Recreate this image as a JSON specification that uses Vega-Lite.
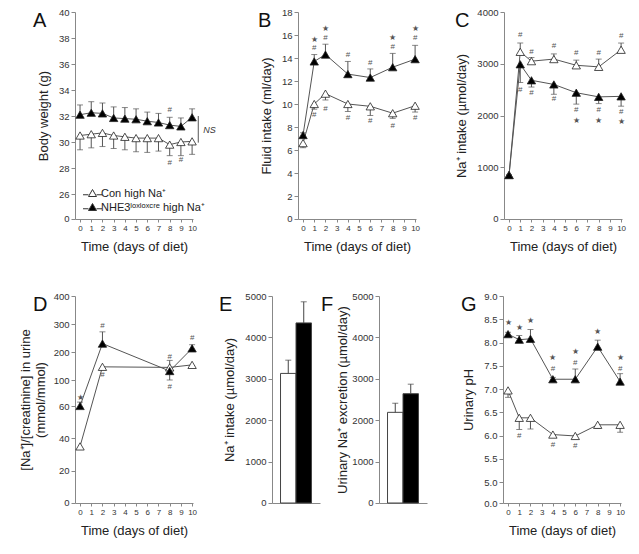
{
"$schema": "https://vega.github.io/schema/vega-lite/v6.json",
"padding": {"left": 19, "top": 7, "right": 5, "bottom": 5},
"config": {
  "font": "Liberation Sans",
  "view": {"stroke": null},
  "axis": {"grid": false, "domainColor": "#888", "tickColor": "#888", "labelColor": "#333", "labelFontSize": 9.5, "titleFontSize": 13, "titleFontWeight": "normal", "titleColor": "#222", "tickSize": 4, "labelPadding": 2, "titlePadding": 8, "labelOverlap": false, "labelFlush": false, "labelBound": false},
  "axisX": {"labelFontSize": 8, "tickSize": 3, "labelAngle": 0},
  "title": {"fontSize": 20, "fontWeight": "normal", "anchor": "start", "frame": "group", "color": "#111"}
},
"datasets": {
  "A": [
    {"day":0,"group":"Con high Na⁺","v":30.5,"e":29.4},{"day":1,"group":"Con high Na⁺","v":30.6,"e":29.55},{"day":2,"group":"Con high Na⁺","v":30.7,"e":29.65},{"day":3,"group":"Con high Na⁺","v":30.5,"e":29.5},{"day":4,"group":"Con high Na⁺","v":30.4,"e":29.4},{"day":5,"group":"Con high Na⁺","v":30.3,"e":29.25},{"day":6,"group":"Con high Na⁺","v":30.3,"e":29.2},{"day":7,"group":"Con high Na⁺","v":30.3,"e":29.3},{"day":8,"group":"Con high Na⁺","v":29.8,"e":28.95},{"day":9,"group":"Con high Na⁺","v":30.0,"e":28.95},{"day":10,"group":"Con high Na⁺","v":30.05,"e":29.05},
    {"day":0,"group":"NHE3ˡᵒˣˡᵒˣᶜʳᵉ high Na⁺","v":32.1,"e":32.85},{"day":1,"group":"NHE3ˡᵒˣˡᵒˣᶜʳᵉ high Na⁺","v":32.25,"e":33.1},{"day":2,"group":"NHE3ˡᵒˣˡᵒˣᶜʳᵉ high Na⁺","v":32.2,"e":33.0},{"day":3,"group":"NHE3ˡᵒˣˡᵒˣᶜʳᵉ high Na⁺","v":31.85,"e":32.7},{"day":4,"group":"NHE3ˡᵒˣˡᵒˣᶜʳᵉ high Na⁺","v":31.8,"e":32.65},{"day":5,"group":"NHE3ˡᵒˣˡᵒˣᶜʳᵉ high Na⁺","v":31.75,"e":32.55},{"day":6,"group":"NHE3ˡᵒˣˡᵒˣᶜʳᵉ high Na⁺","v":31.6,"e":32.3},{"day":7,"group":"NHE3ˡᵒˣˡᵒˣᶜʳᵉ high Na⁺","v":31.5,"e":32.2},{"day":8,"group":"NHE3ˡᵒˣˡᵒˣᶜʳᵉ high Na⁺","v":31.3,"e":31.9},{"day":9,"group":"NHE3ˡᵒˣˡᵒˣᶜʳᵉ high Na⁺","v":31.2,"e":31.85},{"day":10,"group":"NHE3ˡᵒˣˡᵒˣᶜʳᵉ high Na⁺","v":31.9,"e":32.55}
  ],
  "Aann": [{"day":8,"v":32.45,"t":"#"},{"day":8,"v":28.4,"t":"#"},{"day":9,"v":28.65,"t":"#"}],
  "Ans": [{"day":10.55,"v":32.0,"e":29.95}],
  "Anst": [{"day":11.0,"v":30.95,"t":"NS"}],
  "B": [
    {"day":0,"group":"Con high Na⁺","v":6.6,"e":6.2},{"day":1,"group":"Con high Na⁺","v":10.0,"e":9.55},{"day":2,"group":"Con high Na⁺","v":10.9,"e":10.35},{"day":4,"group":"Con high Na⁺","v":10.0,"e":9.35},{"day":6,"group":"Con high Na⁺","v":9.8,"e":9.0},{"day":8,"group":"Con high Na⁺","v":9.2,"e":8.75},{"day":10,"group":"Con high Na⁺","v":9.85,"e":9.3},
    {"day":0,"group":"NHE3ˡᵒˣˡᵒˣᶜʳᵉ high Na⁺","v":7.3,"e":7.5},{"day":1,"group":"NHE3ˡᵒˣˡᵒˣᶜʳᵉ high Na⁺","v":13.7,"e":14.3},{"day":2,"group":"NHE3ˡᵒˣˡᵒˣᶜʳᵉ high Na⁺","v":14.3,"e":15.2},{"day":4,"group":"NHE3ˡᵒˣˡᵒˣᶜʳᵉ high Na⁺","v":12.6,"e":13.7},{"day":6,"group":"NHE3ˡᵒˣˡᵒˣᶜʳᵉ high Na⁺","v":12.3,"e":13.05},{"day":8,"group":"NHE3ˡᵒˣˡᵒˣᶜʳᵉ high Na⁺","v":13.2,"e":14.4},{"day":10,"group":"NHE3ˡᵒˣˡᵒˣᶜʳᵉ high Na⁺","v":13.9,"e":15.1}
  ],
  "Bann": [
    {"day":1,"v":14.85,"t":"#"},{"day":1,"v":15.6,"t":"★"},{"day":2,"v":15.75,"t":"#"},{"day":2,"v":16.5,"t":"★"},{"day":4,"v":14.3,"t":"#"},{"day":6,"v":13.6,"t":"#"},{"day":8,"v":15.0,"t":"#"},{"day":8,"v":15.75,"t":"★"},{"day":10,"v":15.75,"t":"#"},{"day":10,"v":16.5,"t":"★"},
    {"day":1,"v":9.05,"t":"#"},{"day":2,"v":9.6,"t":"#"},{"day":4,"v":8.75,"t":"#"},{"day":6,"v":8.5,"t":"#"},{"day":8,"v":8.05,"t":"#"},{"day":10,"v":8.75,"t":"#"}
  ],
  "C": [
    {"day":0,"group":"Con high Na⁺","v":850,"e":850},{"day":1,"group":"Con high Na⁺","v":3230,"e":3400},{"day":2,"group":"Con high Na⁺","v":3050,"e":3120},{"day":4,"group":"Con high Na⁺","v":3090,"e":3190},{"day":6,"group":"Con high Na⁺","v":2970,"e":3070},{"day":8,"group":"Con high Na⁺","v":2940,"e":3090},{"day":10,"group":"Con high Na⁺","v":3270,"e":3400},
    {"day":0,"group":"NHE3ˡᵒˣˡᵒˣᶜʳᵉ high Na⁺","v":850,"e":850},{"day":1,"group":"NHE3ˡᵒˣˡᵒˣᶜʳᵉ high Na⁺","v":2990,"e":2640},{"day":2,"group":"NHE3ˡᵒˣˡᵒˣᶜʳᵉ high Na⁺","v":2680,"e":2550},{"day":4,"group":"NHE3ˡᵒˣˡᵒˣᶜʳᵉ high Na⁺","v":2600,"e":2410},{"day":6,"group":"NHE3ˡᵒˣˡᵒˣᶜʳᵉ high Na⁺","v":2440,"e":2220},{"day":8,"group":"NHE3ˡᵒˣˡᵒˣᶜʳᵉ high Na⁺","v":2360,"e":2230},{"day":10,"group":"NHE3ˡᵒˣˡᵒˣᶜʳᵉ high Na⁺","v":2370,"e":2180}
  ],
  "Cann": [
    {"day":1,"v":3560,"t":"#"},{"day":2,"v":3230,"t":"#"},{"day":4,"v":3340,"t":"#"},{"day":6,"v":3200,"t":"#"},{"day":8,"v":3210,"t":"#"},{"day":10,"v":3530,"t":"#"},
    {"day":1,"v":2500,"t":"#"},{"day":2,"v":2430,"t":"#"},{"day":4,"v":2310,"t":"#"},{"day":6,"v":2100,"t":"#"},{"day":6,"v":1900,"t":"★"},{"day":8,"v":2100,"t":"#"},{"day":8,"v":1900,"t":"★"},{"day":10,"v":2060,"t":"#"},{"day":10,"v":1870,"t":"★"}
  ],
  "D": [
    {"day":0,"group":"Con high Na⁺","v":35,"e":34},{"day":2,"group":"Con high Na⁺","v":147,"e":140},{"day":8,"group":"Con high Na⁺","v":145,"e":170},{"day":10,"group":"Con high Na⁺","v":154,"e":150},
    {"day":0,"group":"NHE3ˡᵒˣˡᵒˣᶜʳᵉ high Na⁺","v":60,"e":66},{"day":2,"group":"NHE3ˡᵒˣˡᵒˣᶜʳᵉ high Na⁺","v":230,"e":272},{"day":8,"group":"NHE3ˡᵒˣˡᵒˣᶜʳᵉ high Na⁺","v":132,"e":100},{"day":10,"group":"NHE3ˡᵒˣˡᵒˣᶜʳᵉ high Na⁺","v":213,"e":226}
  ],
  "Dann": [{"day":0,"v":72,"t":"★"},{"day":2,"v":293,"t":"#"},{"day":2,"v":118,"t":"#"},{"day":8,"v":183,"t":"#"},{"day":8,"v":89,"t":"#"},{"day":10,"v":249,"t":"#"}],
  "E": [{"group":"Con high Na⁺","v":3130,"e":3450},{"group":"NHE3ˡᵒˣˡᵒˣᶜʳᵉ high Na⁺","v":4350,"e":4860}],
  "F": [{"group":"Con high Na⁺","v":2190,"e":2410},{"group":"NHE3ˡᵒˣˡᵒˣᶜʳᵉ high Na⁺","v":2640,"e":2870}],
  "G": [
    {"day":0,"group":"Con high Na⁺","v":6.97,"e":6.82},{"day":1,"group":"Con high Na⁺","v":6.38,"e":6.13},{"day":2,"group":"Con high Na⁺","v":6.38,"e":6.14},{"day":4,"group":"Con high Na⁺","v":6.02,"e":5.96},{"day":6,"group":"Con high Na⁺","v":5.99,"e":5.93},{"day":8,"group":"Con high Na⁺","v":6.23,"e":6.15},{"day":10,"group":"Con high Na⁺","v":6.23,"e":6.07},
    {"day":0,"group":"NHE3ˡᵒˣˡᵒˣᶜʳᵉ high Na⁺","v":8.18,"e":8.22},{"day":1,"group":"NHE3ˡᵒˣˡᵒˣᶜʳᵉ high Na⁺","v":8.06,"e":8.15},{"day":2,"group":"NHE3ˡᵒˣˡᵒˣᶜʳᵉ high Na⁺","v":8.08,"e":8.28},{"day":4,"group":"NHE3ˡᵒˣˡᵒˣᶜʳᵉ high Na⁺","v":7.21,"e":7.25},{"day":6,"group":"NHE3ˡᵒˣˡᵒˣᶜʳᵉ high Na⁺","v":7.21,"e":7.43},{"day":8,"group":"NHE3ˡᵒˣˡᵒˣᶜʳᵉ high Na⁺","v":7.91,"e":8.05},{"day":10,"group":"NHE3ˡᵒˣˡᵒˣᶜʳᵉ high Na⁺","v":7.16,"e":7.33}
  ],
  "Gann": [
    {"day":0,"v":8.42,"t":"★"},{"day":1,"v":8.32,"t":"★"},{"day":2,"v":8.46,"t":"★"},{"day":4,"v":7.44,"t":"#"},{"day":4,"v":7.67,"t":"★"},{"day":6,"v":7.56,"t":"#"},{"day":6,"v":7.79,"t":"★"},{"day":8,"v":8.22,"t":"★"},{"day":10,"v":7.44,"t":"#"},{"day":10,"v":7.67,"t":"★"},
    {"day":1,"v":5.98,"t":"#"},{"day":4,"v":5.79,"t":"#"},{"day":6,"v":5.77,"t":"#"}
  ]
},
"spacing": 284,
"bounds": "flush",
"vconcat": [
 {"hconcat": [
  {"width":118,"height":207,
   "title":{"text":"A","dx":-42,"dy":24,"baseline":"top","offset":0},
   "layer":[
    {"data":{"name":"A"},
     "encoding":{
       "x":{"field":"day","type":"quantitative","scale":{"domain":[-0.45,10.08],"nice":false,"zero":false},"axis":{"values":[0,1,2,3,4,5,6,7,8,9,10],"tickCount":50,"format":"d","labelOverlap":false,"title":"Time (days of diet)"}},
       "y":{"field":"v","type":"quantitative","title":"Body weight (g)","scale":{"domain":[0,26,40],"range":[207,182,0],"nice":false,"zero":false},"axis":{"values":[0.0001,26,28,30,32,34,36,38,40],"tickCount":50,"format":"d","labelExpr":"datum.value < 0.5 ? '0' : format(datum.value, 'd')","labelOverlap":false}}},
     "layer":[
      {"mark":{"type":"line","color":"#555","strokeWidth":1},"encoding":{"detail":{"field":"group"}}},
      {"mark":{"type":"rule","color":"#555","strokeWidth":1},"encoding":{"y2":{"field":"e"}}},
      {"mark":{"type":"tick","orient":"horizontal","color":"#555","size":6,"thickness":1},"encoding":{"y":{"field":"e","type":"quantitative","title":"Body weight (g)"}}},
      {"mark":{"type":"point","shape":"triangle-up","filled":true,"stroke":"#222","strokeWidth":0.8,"size":70,"opacity":1},
       "encoding":{"fill":{"field":"group","type":"nominal","scale":{"domain":["Con high Na⁺","NHE3ˡᵒˣˡᵒˣᶜʳᵉ high Na⁺"],"range":["#ffffff","#000000"]},
         "legend":{"orient":"none","legendX":12,"legendY":176,"title":null,"symbolType":"M-1.9,0.25H-0.8M0.8,0.25H1.9M0,-0.8L0.8,0.6L-0.8,0.6Z","symbolSize":100,"symbolStrokeColor":"#333","symbolStrokeWidth":1,"labelFontSize":11,"labelColor":"#222","rowPadding":2,"labelOffset":3}}}}
     ]},
    {"data":{"name":"Aann"},"mark":{"type":"text","fontSize":8,"fill":"#555"},"encoding":{"x":{"field":"day","type":"quantitative"},"y":{"field":"v","type":"quantitative","title":"Body weight (g)"},"text":{"field":"t"}}},
    {"data":{"name":"Ans"},"mark":{"type":"rule","color":"#555","strokeWidth":1},"encoding":{"x":{"field":"day","type":"quantitative"},"y":{"field":"v","type":"quantitative","title":"Body weight (g)"},"y2":{"field":"e"}}},
    {"data":{"name":"Anst"},"mark":{"type":"text","fontSize":9,"fontStyle":"italic","align":"left","fill":"#333"},"encoding":{"x":{"field":"day","type":"quantitative"},"y":{"field":"v","type":"quantitative","title":"Body weight (g)"},"text":{"field":"t"}}},
    {"mark":{"type":"text","text":"//","fontSize":10,"fill":"#555"},"encoding":{"x":{"datum":-0.45,"type":"quantitative"},"y":{"datum":12,"type":"quantitative"}}}
   ]},
  {"hconcat": [
   {"width":118,"height":207,
    "title":{"text":"B","dx":-40,"dy":24,"baseline":"top","offset":0},
    "layer":[
     {"data":{"name":"B"},
      "encoding":{
        "x":{"field":"day","type":"quantitative","scale":{"domain":[-0.45,10.08],"nice":false,"zero":false},"axis":{"values":[0,1,2,3,4,5,6,7,8,9,10],"tickCount":50,"format":"d","labelOverlap":false,"title":"Time (days of diet)"}},
        "y":{"field":"v","type":"quantitative","title":"Fluid intake (ml/day)","scale":{"domain":[0,18],"nice":false},"axis":{"values":[0.0001,2,4,6,8,10,12,14,16,18],"tickCount":50,"format":"d","labelExpr":"datum.value < 0.5 ? '0' : format(datum.value, 'd')","labelOverlap":false}}},
      "layer":[
       {"mark":{"type":"line","color":"#555","strokeWidth":1},"encoding":{"detail":{"field":"group"}}},
       {"mark":{"type":"rule","color":"#555","strokeWidth":1},"encoding":{"y2":{"field":"e"}}},
       {"mark":{"type":"tick","orient":"horizontal","color":"#555","size":6,"thickness":1},"encoding":{"y":{"field":"e","type":"quantitative","title":"Fluid intake (ml/day)"}}},
       {"mark":{"type":"point","shape":"triangle-up","filled":true,"stroke":"#222","strokeWidth":0.8,"size":70,"opacity":1},
        "encoding":{"fill":{"field":"group","type":"nominal","scale":{"domain":["Con high Na⁺","NHE3ˡᵒˣˡᵒˣᶜʳᵉ high Na⁺"],"range":["#ffffff","#000000"]},"legend":null}}}
      ]},
     {"data":{"name":"Bann"},"mark":{"type":"text","fontSize":8,"fill":"#555"},"encoding":{"x":{"field":"day","type":"quantitative"},"y":{"field":"v","type":"quantitative","title":"Fluid intake (ml/day)"},"text":{"field":"t"}}}
    ]},
   {"width":118,"height":207,
    "title":{"text":"C","dx":-49,"dy":24,"baseline":"top","offset":0},
    "layer":[
     {"data":{"name":"C"},
      "encoding":{
        "x":{"field":"day","type":"quantitative","scale":{"domain":[-0.45,10.08],"nice":false,"zero":false},"axis":{"values":[0,1,2,3,4,5,6,7,8,9,10],"tickCount":50,"format":"d","labelOverlap":false,"title":"Time (days of diet)"}},
        "y":{"field":"v","type":"quantitative","title":"Na⁺ intake (µmol/day)","scale":{"domain":[0,4000],"nice":false},"axis":{"values":[0.01,1000,2000,3000,4000],"tickCount":50,"format":"d","labelExpr":"datum.value < 0.5 ? '0' : format(datum.value, 'd')","labelOverlap":false}}},
      "layer":[
       {"mark":{"type":"line","color":"#555","strokeWidth":1},"encoding":{"detail":{"field":"group"}}},
       {"mark":{"type":"rule","color":"#555","strokeWidth":1},"encoding":{"y2":{"field":"e"}}},
       {"mark":{"type":"tick","orient":"horizontal","color":"#555","size":6,"thickness":1},"encoding":{"y":{"field":"e","type":"quantitative","title":"Na⁺ intake (µmol/day)"}}},
       {"mark":{"type":"point","shape":"triangle-up","filled":true,"stroke":"#222","strokeWidth":0.8,"size":70,"opacity":1},
        "encoding":{"fill":{"field":"group","type":"nominal","scale":{"domain":["Con high Na⁺","NHE3ˡᵒˣˡᵒˣᶜʳᵉ high Na⁺"],"range":["#ffffff","#000000"]},"legend":null}}}
      ]},
     {"data":{"name":"Cann"},"mark":{"type":"text","fontSize":8,"fill":"#555"},"encoding":{"x":{"field":"day","type":"quantitative"},"y":{"field":"v","type":"quantitative","title":"Na⁺ intake (µmol/day)"},"text":{"field":"t"}}}
    ]}
  ], "spacing": 88, "bounds": "flush"}
 ], "spacing": 105, "bounds": "flush"},
 {"hconcat": [
  {"width":118,"height":207,
   "title":{"text":"D","dx":-42,"dy":24,"baseline":"top","offset":0},
   "layer":[
    {"data":{"name":"D"},
     "encoding":{
       "x":{"field":"day","type":"quantitative","scale":{"domain":[-0.45,10.08],"nice":false,"zero":false},"axis":{"values":[0,1,2,3,4,5,6,7,8,9,10],"tickCount":50,"format":"d","labelOverlap":false,"title":"Time (days of diet)"}},
       "y":{"field":"v","type":"quantitative","title":["[Na⁺]/[creatinine] in urine","(mmol/mmol)"],"scale":{"domain":[0,60,100,400],"range":[207,110,84,0],"nice":false,"zero":false},"axis":{"values":[0.0001,20,40,60,100,200,300,400],"tickCount":50,"format":"d","labelExpr":"datum.value < 0.5 ? '0' : format(datum.value, 'd')","labelOverlap":false,"titlePadding":6}}},
     "layer":[
      {"mark":{"type":"line","color":"#555","strokeWidth":1},"encoding":{"detail":{"field":"group"}}},
      {"mark":{"type":"rule","color":"#555","strokeWidth":1},"encoding":{"y2":{"field":"e"}}},
      {"mark":{"type":"tick","orient":"horizontal","color":"#555","size":6,"thickness":1},"encoding":{"y":{"field":"e","type":"quantitative","title":["[Na⁺]/[creatinine] in urine","(mmol/mmol)"]}}},
      {"mark":{"type":"point","shape":"triangle-up","filled":true,"stroke":"#222","strokeWidth":0.8,"size":70,"opacity":1},
       "encoding":{"fill":{"field":"group","type":"nominal","scale":{"domain":["Con high Na⁺","NHE3ˡᵒˣˡᵒˣᶜʳᵉ high Na⁺"],"range":["#ffffff","#000000"]},"legend":null}}}
     ]},
    {"data":{"name":"Dann"},"mark":{"type":"text","fontSize":8,"fill":"#555"},"encoding":{"x":{"field":"day","type":"quantitative"},"y":{"field":"v","type":"quantitative","title":["[Na⁺]/[creatinine] in urine","(mmol/mmol)"]},"text":{"field":"t"}}},
    {"mark":{"type":"text","text":"//","fontSize":10,"fill":"#555"},"encoding":{"x":{"datum":-0.45,"type":"quantitative"},"y":{"datum":80,"type":"quantitative"}}}
   ]},
  {"hconcat": [
   {"width":48,"height":207,
    "title":{"text":"E","dx":-53,"dy":24,"baseline":"top","offset":0},
    "data":{"name":"E"},
    "encoding":{"x":{"field":"group","type":"nominal","scale":{"domain":["Con high Na⁺","NHE3ˡᵒˣˡᵒˣᶜʳᵉ high Na⁺"],"paddingInner":0,"paddingOuter":0.55},"axis":{"labels":false,"ticks":false,"title":null}}},
    "layer":[
     {"mark":{"type":"bar","stroke":"#444","strokeWidth":1},"encoding":{"y":{"field":"v","type":"quantitative","title":"Na⁺ intake (µmol/day)","scale":{"domain":[0,5000],"nice":false},"axis":{"values":[0.01,1000,2000,3000,4000,5000],"tickCount":50,"format":"d","labelExpr":"datum.value < 0.5 ? '0' : format(datum.value, 'd')","labelOverlap":false}},"fill":{"field":"group","type":"nominal","scale":{"domain":["Con high Na⁺","NHE3ˡᵒˣˡᵒˣᶜʳᵉ high Na⁺"],"range":["#ffffff","#000000"]},"legend":null}}},
     {"mark":{"type":"rule","color":"#444","strokeWidth":1},"encoding":{"y":{"field":"v","type":"quantitative","title":"Na⁺ intake (µmol/day)"},"y2":{"field":"e"}}},
     {"mark":{"type":"tick","orient":"horizontal","color":"#444","size":6,"thickness":1},"encoding":{"y":{"field":"e","type":"quantitative","title":"Na⁺ intake (µmol/day)"}}}
    ]},
   {"hconcat": [
    {"width":48,"height":207,
     "title":{"text":"F","dx":-58,"dy":24,"baseline":"top","offset":0},
     "data":{"name":"F"},
     "encoding":{"x":{"field":"group","type":"nominal","scale":{"domain":["Con high Na⁺","NHE3ˡᵒˣˡᵒˣᶜʳᵉ high Na⁺"],"paddingInner":0,"paddingOuter":0.55},"axis":{"labels":false,"ticks":false,"title":null}}},
     "layer":[
      {"mark":{"type":"bar","stroke":"#444","strokeWidth":1},"encoding":{"y":{"field":"v","type":"quantitative","title":"Urinary Na⁺ excretion (µmol/day)","scale":{"domain":[0,5000],"nice":false},"axis":{"values":[0.01,1000,2000,3000,4000,5000],"tickCount":50,"format":"d","labelExpr":"datum.value < 0.5 ? '0' : format(datum.value, 'd')","labelOverlap":false,"titlePadding":2}},"fill":{"field":"group","type":"nominal","scale":{"domain":["Con high Na⁺","NHE3ˡᵒˣˡᵒˣᶜʳᵉ high Na⁺"],"range":["#ffffff","#000000"]},"legend":null}}},
      {"mark":{"type":"rule","color":"#444","strokeWidth":1},"encoding":{"y":{"field":"v","type":"quantitative","title":"Urinary Na⁺ excretion (µmol/day)"},"y2":{"field":"e"}}},
      {"mark":{"type":"tick","orient":"horizontal","color":"#444","size":6,"thickness":1},"encoding":{"y":{"field":"e","type":"quantitative","title":"Urinary Na⁺ excretion (µmol/day)"}}}
     ]},
    {"width":118,"height":207,
     "title":{"text":"G","dx":-42,"dy":24,"baseline":"top","offset":0},
     "layer":[
      {"data":{"name":"G"},
       "encoding":{
         "x":{"field":"day","type":"quantitative","scale":{"domain":[-0.45,10.08],"nice":false,"zero":false},"axis":{"values":[0,1,2,3,4,5,6,7,8,9,10],"tickCount":50,"format":"d","labelOverlap":false,"title":"Time (days of diet)"}},
         "y":{"field":"v","type":"quantitative","title":"Urinary pH","scale":{"domain":[0,5,9],"range":[207,186,0],"nice":false,"zero":false},"axis":{"values":[0,5,5.5,6,6.5,7,7.5,8,8.5,9],"tickCount":50,"format":".1f","labelOverlap":false}}},
       "layer":[
        {"mark":{"type":"line","color":"#555","strokeWidth":1},"encoding":{"detail":{"field":"group"}}},
        {"mark":{"type":"rule","color":"#555","strokeWidth":1},"encoding":{"y2":{"field":"e"}}},
        {"mark":{"type":"tick","orient":"horizontal","color":"#555","size":6,"thickness":1},"encoding":{"y":{"field":"e","type":"quantitative","title":"Urinary pH"}}},
        {"mark":{"type":"point","shape":"triangle-up","filled":true,"stroke":"#222","strokeWidth":0.8,"size":70,"opacity":1},
         "encoding":{"fill":{"field":"group","type":"nominal","scale":{"domain":["Con high Na⁺","NHE3ˡᵒˣˡᵒˣᶜʳᵉ high Na⁺"],"range":["#ffffff","#000000"]},"legend":null}}}
       ]},
      {"data":{"name":"Gann"},"mark":{"type":"text","fontSize":8,"fill":"#555"},"encoding":{"x":{"field":"day","type":"quantitative"},"y":{"field":"v","type":"quantitative","title":"Urinary pH"},"text":{"field":"t"}}},
      {"mark":{"type":"text","text":"//","fontSize":10,"fill":"#555"},"encoding":{"x":{"datum":-0.45,"type":"quantitative"},"y":{"datum":2.5,"type":"quantitative"}}}
     ]}
   ], "spacing": 76, "bounds": "flush"}
  ], "spacing": 59, "bounds": "flush"}
 ], "spacing": 79, "bounds": "flush"}
]
}
